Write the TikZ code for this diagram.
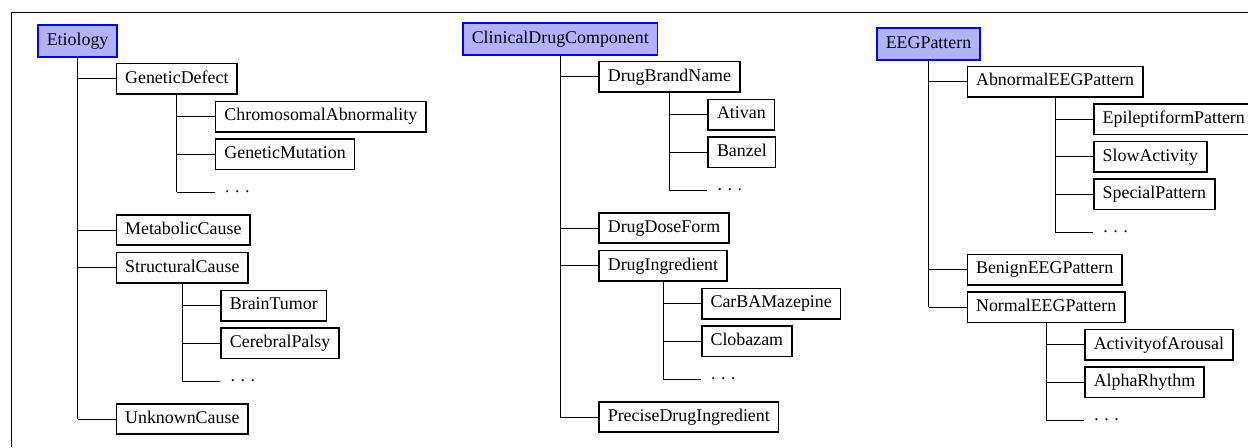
\documentclass[tikz,border=0pt]{standalone}
\usepackage{fontspec}
\setmainfont{Liberation Serif}
\usetikzlibrary{calc}

\begin{document}
\begin{tikzpicture}[
    x=0.5587pt, y=-0.5587pt,
    every node/.style={font=\normalsize},
    concept/.style={draw, line width=0.9pt, inner xsep=4.9pt, inner ysep=3.9pt,
        text height=7pt, text depth=2.2pt, anchor=west, fill=white},
    root/.style={concept, draw=blue, fill=blue!30, line width=1.1pt, inner ysep=4.3pt},
    more/.style={inner xsep=5.5pt, inner ysep=0pt, anchor=base west},
    branch/.style={draw, line width=0.55pt}
]
\useasboundingbox (0,0) rectangle (1248,447);
\draw[line width=0.7pt] (11.6,447) -- (11.6,12.3) -- (1248,12.3);

\node[root] (eti) at (37,41) {Etiology};
\node[concept] (gendef) at ($(eti.center |- 0,78.8)+(38,0)$) {GeneticDefect};
\node[concept] (chrom) at ($(gendef.center |- 0,116.6)+(38,0)$) {ChromosomalAbnormality};
\node[concept] (genmut) at ($(gendef.center |- 0,154.4)+(38,0)$) {GeneticMutation};
\coordinate (gendefx) at ($(gendef.center |- 0,192.2)+(38,0)$);
\node[more] (gendefdots) at (gendefx) {.\hspace{0.31em}.\hspace{0.31em}.};
\node[concept] (metab) at ($(eti.center |- 0,230)+(38,0)$) {MetabolicCause};
\node[concept] (struct) at ($(eti.center |- 0,267.8)+(38,0)$) {StructuralCause};
\node[concept] (tumor) at ($(struct.center |- 0,305.6)+(38,0)$) {BrainTumor};
\node[concept] (palsy) at ($(struct.center |- 0,343.4)+(38,0)$) {CerebralPalsy};
\coordinate (structx) at ($(struct.center |- 0,381.2)+(38,0)$);
\node[more] (structdots) at (structx) {.\hspace{0.31em}.\hspace{0.31em}.};
\node[concept] (unknown) at ($(eti.center |- 0,419)+(38,0)$) {UnknownCause};

\node[root] (drug) at (462,39) {ClinicalDrugComponent};
\node[concept] (brand) at ($(drug.center |- 0,76.8)+(38,0)$) {DrugBrandName};
\node[concept] (ativan) at ($(brand.center |- 0,114.6)+(38,0)$) {Ativan};
\node[concept] (banzel) at ($(brand.center |- 0,152.4)+(38,0)$) {Banzel};
\coordinate (brandx) at ($(brand.center |- 0,190.2)+(38,0)$);
\node[more] (branddots) at (brandx) {.\hspace{0.31em}.\hspace{0.31em}.};
\node[concept] (dose) at ($(drug.center |- 0,228)+(38,0)$) {DrugDoseForm};
\node[concept] (ingr) at ($(drug.center |- 0,265.8)+(38,0)$) {DrugIngredient};
\node[concept] (carba) at ($(ingr.center |- 0,303.6)+(38,0)$) {CarBAMazepine};
\node[concept] (clob) at ($(ingr.center |- 0,341.4)+(38,0)$) {Clobazam};
\coordinate (ingrx) at ($(ingr.center |- 0,379.2)+(38,0)$);
\node[more] (ingrdots) at (ingrx) {.\hspace{0.31em}.\hspace{0.31em}.};
\node[concept] (precise) at ($(drug.center |- 0,417)+(38,0)$) {PreciseDrugIngredient};

\node[root] (eeg) at (876,44) {EEGPattern};
\node[concept] (abn) at ($(eeg.center |- 0,81.6)+(38,0)$) {AbnormalEEGPattern};
\node[concept] (epi) at ($(abn.center |- 0,119.2)+(38,0)$) {EpileptiformPattern};
\node[concept] (slow) at ($(abn.center |- 0,156.8)+(38,0)$) {SlowActivity};
\node[concept] (special) at ($(abn.center |- 0,194.4)+(38,0)$) {SpecialPattern};
\coordinate (abnx) at ($(abn.center |- 0,232)+(38,0)$);
\node[more] (abndots) at (abnx) {.\hspace{0.31em}.\hspace{0.31em}.};
\node[concept] (benign) at ($(eeg.center |- 0,269.6)+(38,0)$) {BenignEEGPattern};
\node[concept] (normal) at ($(eeg.center |- 0,307.2)+(38,0)$) {NormalEEGPattern};
\node[concept] (arousal) at ($(normal.center |- 0,344.8)+(38,0)$) {ActivityofArousal};
\node[concept] (alpha) at ($(normal.center |- 0,382.4)+(38,0)$) {AlphaRhythm};
\coordinate (normalx) at ($(normal.center |- 0,420)+(38,0)$);
\node[more] (normaldots) at (normalx) {.\hspace{0.31em}.\hspace{0.31em}.};

\foreach \p/\c in {eti/unknown.west, gendef/gendefx, struct/structx,
    drug/precise.west, brand/brandx, ingr/ingrx, eeg/normal.west, abn/abnx, normal/normalx}
  \draw[branch] (\p.south) -- (\p.center |- \c);
\foreach \p/\c in {eti/gendef.west, eti/metab.west, eti/struct.west, eti/unknown.west,
    gendef/chrom.west, gendef/genmut.west, gendef/gendefx,
    struct/tumor.west, struct/palsy.west, struct/structx,
    drug/brand.west, drug/dose.west, drug/ingr.west, drug/precise.west,
    brand/ativan.west, brand/banzel.west, brand/brandx,
    ingr/carba.west, ingr/clob.west, ingr/ingrx,
    eeg/abn.west, eeg/benign.west, eeg/normal.west,
    abn/epi.west, abn/slow.west, abn/special.west, abn/abnx,
    normal/arousal.west, normal/alpha.west, normal/normalx}
  \draw[branch] (\p.center |- \c) -- (\c);
\end{tikzpicture}
\end{document}
